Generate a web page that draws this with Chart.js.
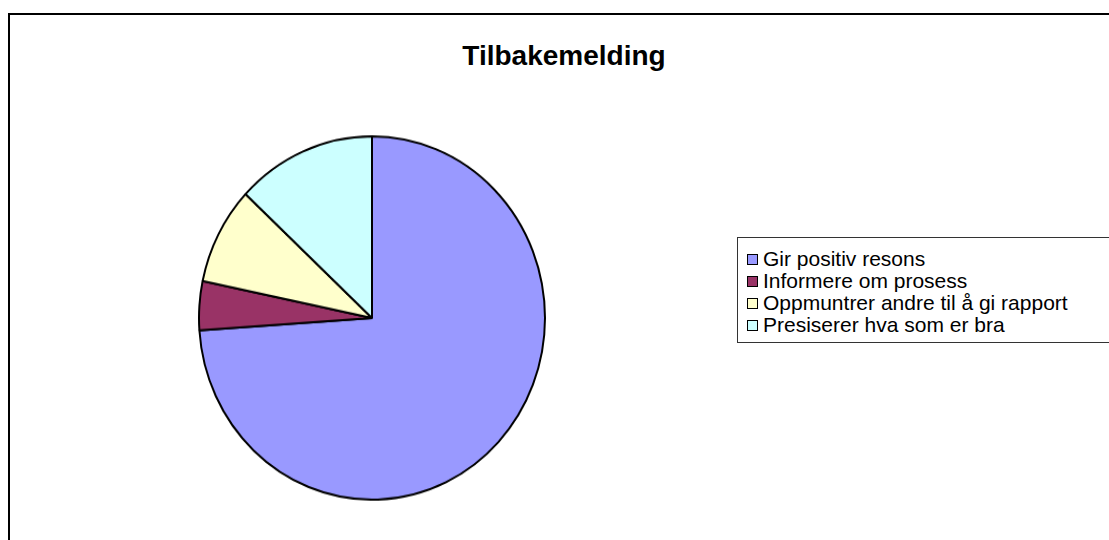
<!DOCTYPE html>
<html>
<head>
<meta charset="utf-8">
<script src="https://cdn.jsdelivr.net/npm/chart.js@4"></script>
<style>
  body { margin: 0; background: #fff; width: 1109px; height: 540px; overflow: hidden; position: relative; font-family: "Liberation Sans", Arial, sans-serif; }
  #frame { position: absolute; left: 8px; top: 13px; width: 1200px; height: 600px; border: 2px solid #000; }
  #title { position: absolute; left: 0; width: 1128px; top: 40px; text-align: center; font-weight: bold; font-size: 28px; color: #000; }
  #pieWrap { position: absolute; left: 198px; top: 144px; width: 348px; height: 348px; transform: scaleY(1.05); transform-origin: 50% 50%; }
  #legend { position: absolute; left: 737px; top: 237px; width: 400px; height: 104px; border: 1px solid #333; }
  .item { position: absolute; left: 9px; font-size: 21px; color: #000; white-space: nowrap; line-height: 22px; }
  .sw { display: inline-block; width: 9px; height: 9px; border: 1px solid #000; margin-right: 5px; vertical-align: 1px; }
</style>
</head>
<body>
<div id="frame"></div>
<div id="title">Tilbakemelding</div>
<div id="pieWrap"><canvas id="pie"></canvas></div>
<div id="legend"></div>
<script>
// data for the pie
const categories = ["Gir positiv resons", "Informere om prosess", "Oppmuntrer andre til å gi rapport", "Presiserer hva som er bra"];
const answers = [17, 1, 2, 3];
const sliceColors = ["#9999FF", "#993366", "#FFFFCC", "#CCFFFF"];

// legend box to the right
const legendDiv = document.getElementById("legend");
categories.forEach((name, i) => {
  const row = document.createElement("div");
  row.className = "item";
  row.style.top = (10 + i * 22) + "px";
  row.innerHTML = `<span class="sw" style="background:${sliceColors[i]}"></span>${name}`;
  legendDiv.appendChild(row);
});

new Chart(document.getElementById("pie"), {
  type: "pie",
  data: {
    labels: categories,
    datasets: [{
      data: answers,
      backgroundColor: sliceColors,
      borderColor: "#000",
      borderWidth: 2,
    }],
  },
  options: {
    responsive: true,
    maintainAspectRatio: false,
    animation: false,
    events: [],
    layout: { padding: 0 },
    plugins: {
      legend: { display: false },
      tooltip: { enabled: false },
      title: { display: false },
    },
  },
});
</script>
</body>
</html>
